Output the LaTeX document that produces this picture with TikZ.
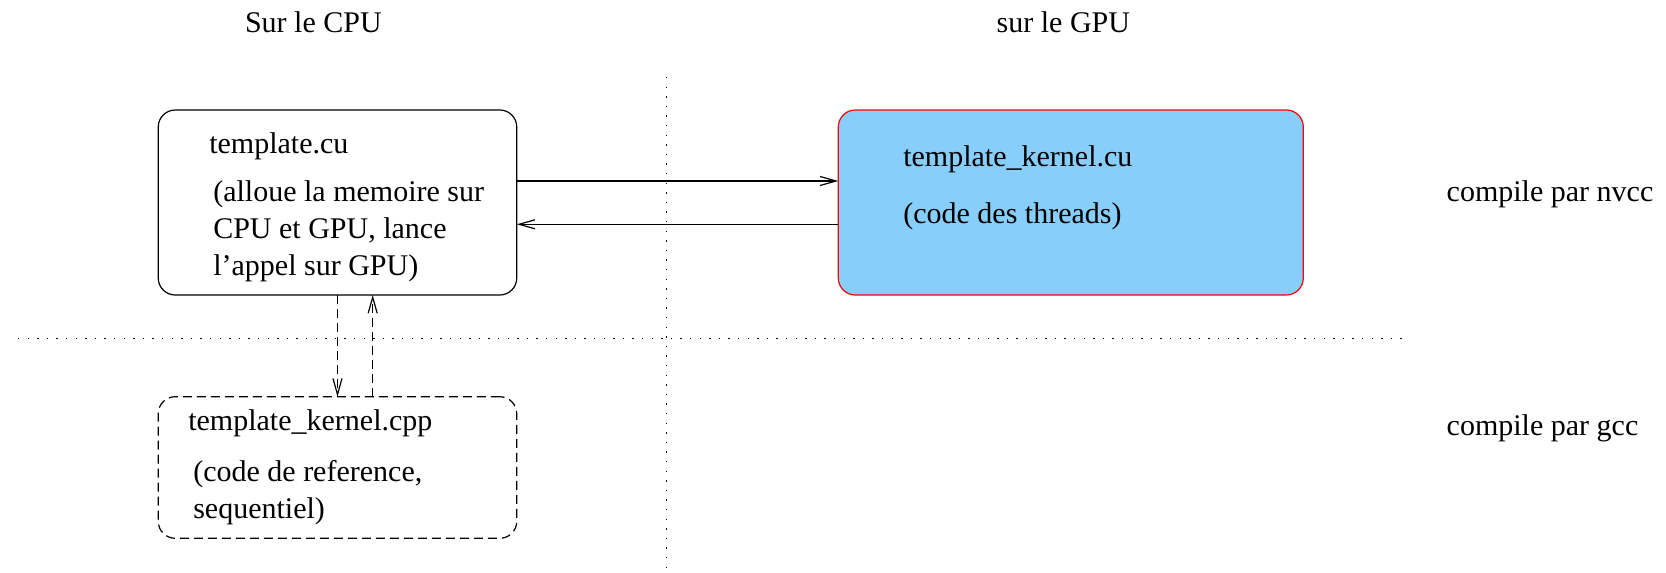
\documentclass[tikz,border=0pt]{standalone}
\usepackage{fontspec}
\setmainfont{Liberation Serif}
\usetikzlibrary{arrows.meta}
\definecolor{kernelblue}{RGB}{135,206,250}

\begin{document}
\begin{tikzpicture}[x=1pt,y=-1pt,
  every node/.style={inner sep=0pt, outer sep=0pt},
  lbl/.style={anchor=base west, font=\fontsize{30}{36.7}\selectfont},
  box/.style={draw, line width=1.2pt, rounded corners=17pt},
  link/.style={line width=1.2pt, -{Straight Barb[length=16pt,width=9pt]}},
  dashlink/.style={link, dash pattern=on 9pt off 5pt},
  sep/.style={line width=1.3pt, dash pattern=on 1.3pt off 8.3pt},
]
\useasboundingbox (0,0) rectangle (1666,573);

% column headings
\node[lbl] (hcpu) at (245,32.3) {Sur le CPU};
\node[lbl] (hgpu) at (996.7,32.3) {sur le GPU};

% separators between host/device and compilers
\coordinate (vtop) at (666.7,77);
\coordinate (vbot) at (666.7,568);
\coordinate (hleft) at (18,338.5);
\coordinate (hright) at (1405,338.5);
\draw[sep] (vtop) -- (vbot);
\draw[sep] (hleft) -- (hright);

% boxes
\node[box, minimum width=358.5pt, minimum height=185pt] (cpu) at (337.5,202.5) {};
\node[box, draw=red, fill=kernelblue, minimum width=465pt, minimum height=185pt] (gpu) at (1070.8,202.5) {};
\node[box, dash pattern=on 9pt off 5pt, minimum width=358.5pt, minimum height=141.6pt] (ref) at (337.5,467.5) {};

% box texts
\node[lbl] (cpuname) at (209.3,153.3) {template.cu};
\node[lbl] (cpudesc) at (213.3,201.7) {\vtop{\hbox{(alloue la memoire sur}\hbox{CPU et GPU, lance}\hbox{l'appel sur GPU)}}};
\node[lbl] (gpuname) at (903.3,166.7) {template\_kernel.cu};
\node[lbl] (gpudesc) at (903.3,223.3) {(code des threads)};
\node[lbl] (refname) at (188.3,430) {template\_kernel.cpp};
\node[lbl] (refdesc) at (193.3,481.7) {\vtop{\hbox{(code de reference,}\hbox{sequentiel)}}};

% compiler labels
\node[lbl] (nvcc) at (1446.7,201.7) {compile par nvcc};
\node[lbl] (gcc) at (1446.7,435.7) {compile par gcc};

% calls between host and device
\draw[link] ([yshift=21.5pt]cpu.east) -- ([yshift=21.5pt]gpu.west);
\draw[link] ([yshift=-21.8pt]gpu.west) -- ([yshift=-21.8pt]cpu.east);

% calls to the reference code
\draw[dashlink] (cpu.south) -- (ref.north);
\draw[dashlink] ([xshift=35.2pt]ref.north) -- ([xshift=35.2pt]cpu.south);
\end{tikzpicture}
\end{document}
